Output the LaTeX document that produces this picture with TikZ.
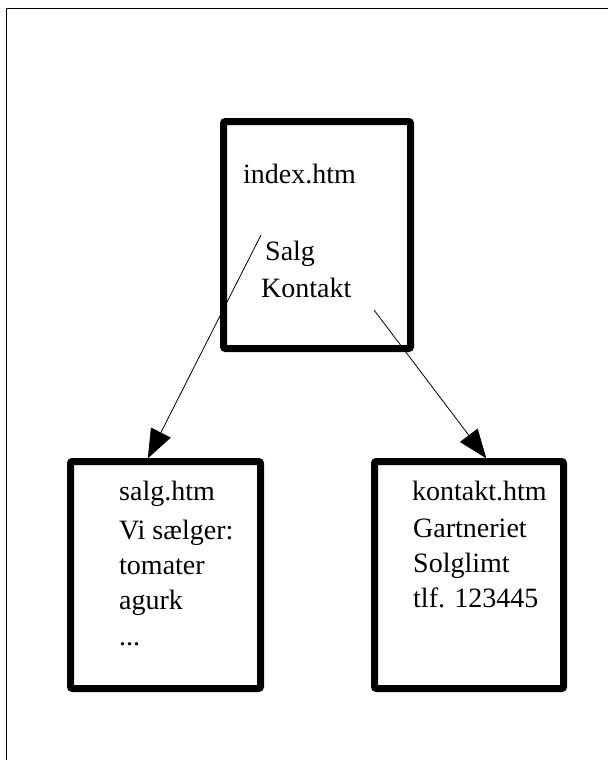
\documentclass[tikz,border=0pt]{standalone}
\usepackage{fontspec}
\setmainfont{Liberation Serif}
\usetikzlibrary{arrows.meta}
\begin{document}
\begin{tikzpicture}[x=1pt,y=-1pt,
  page/.style={line width=1pt},
  pagebox/.style={draw,line width=7pt,rounded corners=2pt,inner sep=0pt,
    minimum height=227pt},
  txt/.style={anchor=base west,inner sep=0pt,font=\fontsize{28}{34}\selectfont},
  link/.style={line width=0.8pt,-{Triangle[length=29pt,width=22pt]},shorten >=-0.5pt}]
\useasboundingbox (0,0) rectangle (608,760);
% page frame
\coordinate (ftl) at (6.5,9);
\coordinate (ftr) at (608,9);
\coordinate (fbl) at (6.5,760);
\draw[page] (fbl) -- (ftl) -- (ftr);
% boxes
\node[pagebox,minimum width=187pt] (index) at (317,235) {};
\node[pagebox,minimum width=190pt] (salg) at (165.5,575) {};
\node[pagebox,minimum width=189pt] (kontakt) at (469,575) {};
% index text
\node[txt] (t0) at (243,183) {index.htm};
\node[txt] (t1) at (265,260) {Salg};
\node[txt] (t2) at (261,297) {Kontakt};
% salg text
\node[txt] (s0) at (119,500.5) {salg.htm};
\node[txt] (s1) at (119,539) {Vi sælger:};
\node[txt] (s2) at (119,574) {tomater};
\node[txt] (s3) at (119,609) {agurk};
\node[txt] (s4) at (119,645) {...};
% kontakt text
\node[txt] (k0) at (412,500.5) {kontakt.htm};
\node[txt] (k1) at (413,537.5) {Gartneriet};
\node[txt] (k2) at (413,572) {Solglimt};
\node[txt] (k3) at (413,607) {tlf. 123445};
% connectors
\coordinate (linkA) at (261,235);
\coordinate (endA) at (148,458);
\coordinate (linkB) at (374,310);
\coordinate (endB) at (486,458);
\draw[link] (linkA) -- (endA);
\draw[link] (linkB) -- (endB);
\end{tikzpicture}
\end{document}
